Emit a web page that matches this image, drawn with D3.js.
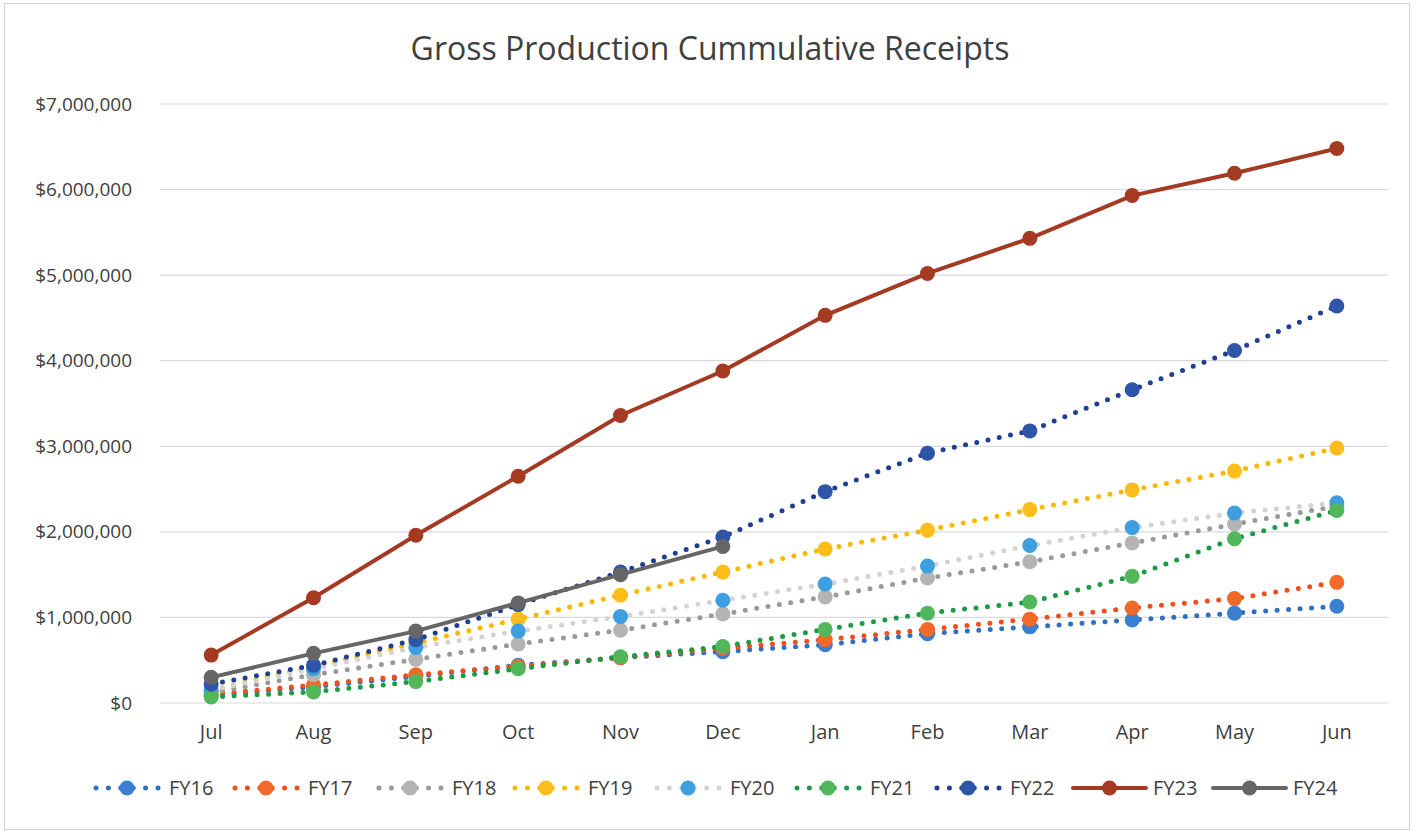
<!DOCTYPE html>
<html>
<head>
<meta charset="utf-8">
<script src="https://cdn.jsdelivr.net/npm/d3@7"></script>
<style>
  body { margin: 0; background: #fff; }
  svg { font-family: "Open Sans", Lato, sans-serif; }
</style>
</head>
<body>
<svg id="chart" width="1414" height="833"></svg>
<script>
// data (cumulative receipts, $)
var months = ["Jul", "Aug", "Sep", "Oct", "Nov", "Dec", "Jan", "Feb", "Mar", "Apr", "May", "Jun"];
var yTicks = [0, 1000000, 2000000, 3000000, 4000000, 5000000, 6000000, 7000000];

var fy16 = [90000, 190000, 310000, 440000, 530000, 600000, 680000, 810000, 890000, 970000, 1050000, 1130000];
var fy17 = [100000, 210000, 330000, 430000, 530000, 640000, 740000, 860000, 980000, 1110000, 1220000, 1410000];
var fy18 = [120000, 330000, 510000, 690000, 850000, 1040000, 1240000, 1460000, 1650000, 1870000, 2090000, 2300000];
var fy19 = [150000, 430000, 700000, 980000, 1260000, 1530000, 1800000, 2020000, 2260000, 2490000, 2710000, 2980000];
var fy20 = [150000, 400000, 650000, 840000, 1010000, 1200000, 1390000, 1600000, 1840000, 2050000, 2220000, 2340000];
var fy21 = [70000, 130000, 250000, 400000, 540000, 660000, 860000, 1050000, 1180000, 1480000, 1920000, 2250000];
var fy22 = [220000, 440000, 740000, 1150000, 1530000, 1940000, 2470000, 2920000, 3180000, 3660000, 4120000, 4640000];
var fy23 = [560000, 1230000, 1960000, 2650000, 3360000, 3880000, 4530000, 5020000, 5430000, 5930000, 6190000, 6480000];
var fy24 = [300000, 580000, 840000, 1170000, 1500000, 1830000];

var seriesNames = ["FY16", "FY17", "FY18", "FY19", "FY20", "FY21", "FY22", "FY23", "FY24"];
var seriesValues = [fy16, fy17, fy18, fy19, fy20, fy21, fy22, fy23, fy24];

// styles per series (line colour, marker colour, dotted or solid)
var styles = {
    FY16: {line: "#2f6fc0", marker: "#3a7fd0", dotted: true},
    FY17: {line: "#f04e1c", marker: "#f26a2a", dotted: true},
    FY18: {line: "#9a9a9a", marker: "#b4b4b4", dotted: true},
    FY19: {line: "#fbb800", marker: "#fdbd1a", dotted: true},
    FY20: {line: "#d3d3d3", marker: "#3d9ee0", dotted: true},
    FY21: {line: "#1e9a45", marker: "#52b65a", dotted: true},
    FY22: {line: "#1f3f94", marker: "#2f55a8", dotted: true},
    FY23: {line: "#a53a22", marker: "#a53a22", dotted: false},
    FY24: {line: "#666666", marker: "#666666", dotted: false}
};

var width = 1414, height = 833;
var margins = {left: 160, right: 26, top: 104, bottom: 130};
var innerWidth = width - margins.left - margins.right;
var innerHeight = height - margins.top - margins.bottom;

var svg = d3.select("svg#chart");

svg.append("rect")
    .attr("x", 4.5).attr("y", 3.5)
    .attr("width", width - 9).attr("height", height - 7)
    .attr("fill", "#fff")
    .attr("stroke", "#d4d4d4");

svg.append("text")
    .attr("x", 710)
    .attr("y", 60)
    .attr("text-anchor", "middle")
    .attr("font-size", "32px")
    .attr("fill", "#404040")
    .text("Gross Production Cummulative Receipts");

var plot = svg.append("g")
    .attr("transform", "translate(" + margins.left + "," + margins.top + ")");

var xScale = d3.scaleBand().domain(months).range([0, innerWidth]);
var yScale = d3.scaleLinear().domain([0, 7000000]).range([innerHeight, 0]);

// gridlines
plot.append("g")
    .selectAll("line")
    .data(yTicks)
    .join("line")
    .attr("x1", 0).attr("x2", innerWidth)
    .attr("y1", d => yScale(d)).attr("y2", d => yScale(d))
    .attr("stroke", "#d9d9d9")
    .attr("stroke-width", 1.2);

var yAxis = plot.append("g")
    .call(d3.axisLeft(yScale).tickValues(yTicks).tickSize(0).tickPadding(28)
        .tickFormat(d => "$" + d3.format(",")(d)));
yAxis.select(".domain").remove();
yAxis.selectAll("text")
    .attr("font-size", "19px")
    .attr("fill", "#404040")
    .attr("font-family", "\"Open Sans\", sans-serif");

var xAxis = plot.append("g")
    .attr("transform", "translate(0," + innerHeight + ")")
    .call(d3.axisBottom(xScale).tickSize(0).tickPadding(22));
xAxis.select(".domain").remove();
xAxis.selectAll("text")
    .attr("font-size", "20px")
    .attr("fill", "#404040")
    .attr("font-family", "\"Open Sans\", sans-serif");

var line = d3.line()
    .x((d, i) => xScale(months[i]) + xScale.bandwidth() / 2)
    .y(d => yScale(d));

seriesNames.forEach(function(name, k) {
    var st = styles[name];
    var vals = seriesValues[k];
    var g = plot.append("g").attr("class", "series");

    g.append("path")
        .datum(vals)
        .attr("d", line)
        .attr("fill", "none")
        .attr("stroke", st.line)
        .attr("stroke-width", st.dotted ? 5 : 4)
        .attr("stroke-linecap", "round")
        .attr("stroke-dasharray", st.dotted ? "0 11.5" : null);

    g.selectAll("circle")
        .data(vals)
        .join("circle")
        .attr("cx", (d, i) => xScale(months[i]) + xScale.bandwidth() / 2)
        .attr("cy", d => yScale(d))
        .attr("r", 7.5)
        .attr("fill", st.marker);
});

// legend
var legendX = [96, 235, 379, 515, 657, 797, 937, 1073, 1213];
var legend = svg.append("g").attr("transform", "translate(0,788)");
seriesNames.forEach(function(name, k) {
    var st = styles[name];
    var lg = legend.append("g").attr("transform", "translate(" + legendX[k] + ",0)");
    var symW = st.dotted ? 62 : 73;
    lg.append("line")
        .attr("x1", 0).attr("x2", symW)
        .attr("y1", 0).attr("y2", 0)
        .attr("stroke", st.line)
        .attr("stroke-width", st.dotted ? 5 : 4)
        .attr("stroke-linecap", "round")
        .attr("stroke-dasharray", st.dotted ? "0 12.4" : null);
    lg.append("circle")
        .attr("cx", symW / 2).attr("cy", 0).attr("r", 7.5)
        .attr("fill", st.marker);
    lg.append("text")
        .attr("x", st.dotted ? 73 : 80)
        .attr("y", 0)
        .attr("dy", "0.35em")
        .attr("font-size", "20px")
        .attr("fill", "#404040")
        .text(name);
});
</script>
</body>
</html>
